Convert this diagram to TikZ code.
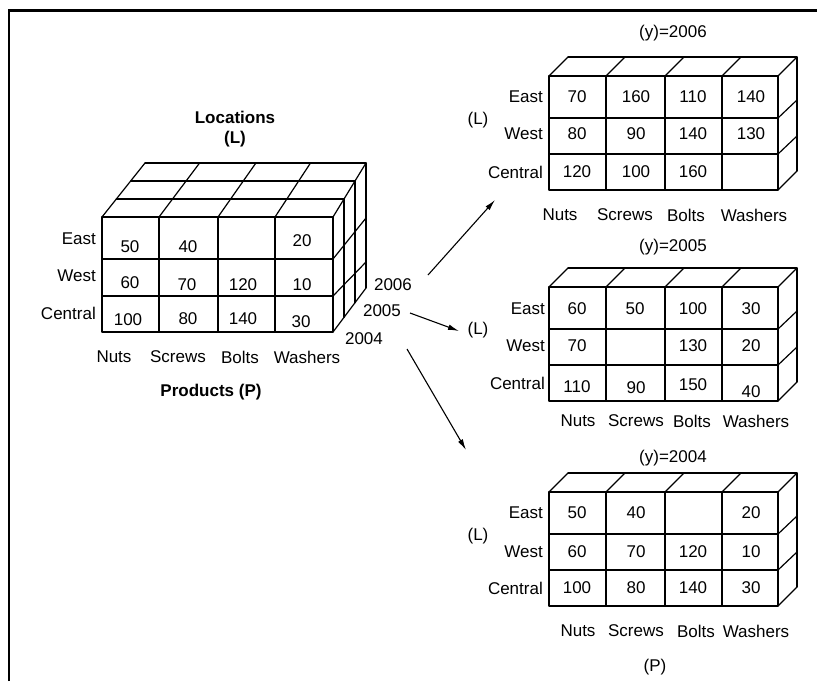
\documentclass[tikz,border=0pt]{standalone}
\usepackage{fontspec}
\setmainfont{Liberation Sans}
\usetikzlibrary{arrows.meta}
\tikzset{
 txt/.style={inner sep=0pt, font=\fontsize{17}{20}\selectfont},
 lbl/.style={txt, anchor=east},
 bld/.style={inner sep=0pt, font=\fontsize{17}{20}\selectfont\bfseries},
 cubeline/.style={line width=1.2pt, line join=round, line cap=round},
 frameline/.style={line width=2.6pt},
 arr/.style={line width=1.1pt, -{Latex[length=11pt,width=5.5pt]}}
}
\newcommand\rcubegrid[1]{%
 \begin{scope}[shift={(0,#1)}]
  \draw[cubeline] (549,0) rectangle (778,114);
  \draw[cubeline] (549,42) -- (778,42) (549,78) -- (778,78);
  \foreach \x in {606,665,722} \draw[cubeline] (\x,0) -- (\x,114);
  \draw[cubeline] (568,-19) -- (797,-19) -- (797,95);
  \foreach \x in {549,606,665,722,778} \draw[cubeline] (\x,0) -- ++(19,-19);
  \draw[cubeline] (778,42) -- (797,24) (778,78) -- (797,60) (778,114) -- (797,95);
 \end{scope}}
\begin{document}
\begin{tikzpicture}[x=1pt,y=-1pt]
\useasboundingbox (0,0) rectangle (817,681);
% frame
\draw[frameline] (9,681) -- (9,10.5) -- (817,10.5);

% ---------- left cube ----------
\draw[cubeline] (102,217) rectangle (333,332);
\draw[cubeline] (102,259) -- (333,259) (102,296) -- (333,296);
\foreach \x in {159,218,275} \draw[cubeline] (\x,217) -- (\x,332);
% top face
\draw[cubeline] (116.3,199) -- (344,199) (130.7,181) -- (355,181) (145,163) -- (366,163);
\draw[cubeline] (102,217) -- (145,163) (159,217) -- (199.6,163) (218,217) -- (255.9,163)
  (275,217) -- (310.5,163) (333,217) -- (366,163);
% right face
\draw[cubeline] (344,199) -- (344,317.3) (355,181) -- (355,302.7) (366,163) -- (366,288);
\draw[cubeline] (333,259) -- (366,218) (333,296) -- (366,262) (333,332) -- (366,288);

\node[bld] (loc) at (235,117) {Locations};
\node[bld] (locL) at (235,139) {(L)};
\node[bld] (prodP) at (211,392) {Products (P)};
\node[lbl] (le) at (96,239) {East};
\node[lbl] (lw) at (96,276) {West};
\node[lbl] (lc) at (96,313) {Central};
\node[txt] (l11) at (130,247) {50};
\node[txt] (l12) at (188,247) {40};
\node[txt] (l14) at (302,241) {20};
\node[txt] (l21) at (130,283) {60};
\node[txt] (l22) at (187,285) {70};
\node[txt] (l23) at (243,285) {120};
\node[txt] (l24) at (302,285) {10};
\node[txt] (l31) at (128,320) {100};
\node[txt] (l32) at (188,319) {80};
\node[txt] (l33) at (243,319) {140};
\node[txt] (l34) at (301,322) {30};
\node[txt] (ln) at (114,357) {Nuts};
\node[txt] (ls) at (178,357) {Screws};
\node[txt] (lb) at (240,357) {Bolts};
\node[txt] (lwa) at (307,357) {Washers};
\node[txt] (y6) at (393,285) {2006};
\node[txt] (y5) at (382,311) {2005};
\node[txt] (y4) at (364,339) {2004};

% ---------- arrows ----------
\coordinate (a1s) at (428,275); \coordinate (a1e) at (495,200);
\coordinate (a2s) at (410,313); \coordinate (a2e) at (459,331);
\coordinate (a3s) at (407,349); \coordinate (a3e) at (466,450);
\draw[arr] (a1s) -- (a1e);
\draw[arr] (a2s) -- (a2e);
\draw[arr] (a3s) -- (a3e);

% ---------- cube 2006 ----------
\rcubegrid{76}
\node[txt] (t-y) at (673,33) {(y)=2006};
\node[txt] (t-L) at (478,120) {(L)};
\node[lbl] (t-e) at (543,97) {East};
\node[lbl] (t-w) at (543,134) {West};
\node[lbl] (t-c) at (543,172) {Central};
\node[txt] (t11) at (577,97) {70};
\node[txt] (t12) at (636,97) {160};
\node[txt] (t13) at (693,97) {110};
\node[txt] (t14) at (751,97) {140};
\node[txt] (t21) at (577,134) {80};
\node[txt] (t22) at (636,134) {90};
\node[txt] (t23) at (693,134) {140};
\node[txt] (t24) at (751,134) {130};
\node[txt] (t31) at (577,172) {120};
\node[txt] (t32) at (636,172) {100};
\node[txt] (t33) at (693,172) {160};
\node[txt] (t-n) at (560,215) {Nuts};
\node[txt] (t-s) at (625,215) {Screws};
\node[txt] (t-b) at (686,215) {Bolts};
\node[txt] (t-wa) at (754,215) {Washers};

% ---------- cube 2005 ----------
\rcubegrid{287}
\node[txt] (m-y) at (673,247) {(y)=2005};
\node[txt] (m-L) at (478,330) {(L)};
\node[lbl] (m-e) at (545,309) {East};
\node[lbl] (m-w) at (545,346) {West};
\node[lbl] (m-c) at (545,383) {Central};
\node[txt] (m11) at (577,309) {60};
\node[txt] (m12) at (635,309) {50};
\node[txt] (m13) at (693,309) {100};
\node[txt] (m14) at (751,309) {30};
\node[txt] (m21) at (577,346) {70};
\node[txt] (m23) at (693,346) {130};
\node[txt] (m24) at (751,346) {20};
\node[txt] (m31) at (577,387) {110};
\node[txt] (m32) at (636,388) {90};
\node[txt] (m33) at (693,385) {150};
\node[txt] (m34) at (751,392) {40};
\node[txt] (m-n) at (578,421) {Nuts};
\node[txt] (m-s) at (636,421) {Screws};
\node[txt] (m-b) at (692,421) {Bolts};
\node[txt] (m-wa) at (756,421) {Washers};

% ---------- cube 2004 ----------
\rcubegrid{492}
\node[txt] (b-y) at (673,458) {(y)=2004};
\node[txt] (b-L) at (478,536) {(L)};
\node[lbl] (b-e) at (543,513) {East};
\node[lbl] (b-w) at (543,552) {West};
\node[lbl] (b-c) at (543,588) {Central};
\node[txt] (b11) at (577,513) {50};
\node[txt] (b12) at (636,513) {40};
\node[txt] (b14) at (751,513) {20};
\node[txt] (b21) at (577,552) {60};
\node[txt] (b22) at (636,552) {70};
\node[txt] (b23) at (693,552) {120};
\node[txt] (b24) at (751,552) {10};
\node[txt] (b31) at (577,588) {100};
\node[txt] (b32) at (636,588) {80};
\node[txt] (b33) at (693,588) {140};
\node[txt] (b34) at (751,588) {30};
\node[txt] (b-n) at (578,631) {Nuts};
\node[txt] (b-s) at (636,631) {Screws};
\node[txt] (b-b) at (696,631) {Bolts};
\node[txt] (b-wa) at (756,631) {Washers};
\node[txt] (b-P) at (655,667) {(P)};
\end{tikzpicture}
\end{document}
